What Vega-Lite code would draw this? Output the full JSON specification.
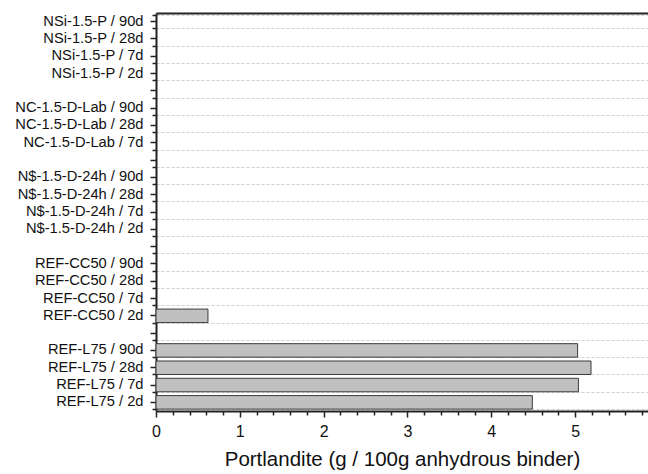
{
  "$schema": "https://vega.github.io/schema/vega-lite/v6.json",
  "autosize": {"type": "none"},
  "padding": {"left": 156, "top": 13, "right": 0, "bottom": 63},
  "width": 492,
  "height": 398,
  "background": "white",
  "config": {
    "view": {"stroke": null},
    "font": "Liberation Sans",
    "axis": {"labelFont": "Liberation Sans", "titleFont": "Liberation Sans", "labelColor": "#111", "titleColor": "#111", "tickColor": "#222", "domainColor": "#222"}
  },
  "data": {
    "values": [
      {"sample": "NSi-1.5-P / 90d", "portlandite": null},
      {"sample": "NSi-1.5-P / 28d", "portlandite": null},
      {"sample": "NSi-1.5-P / 7d", "portlandite": null},
      {"sample": "NSi-1.5-P / 2d", "portlandite": null},
      {"sample": "NC-1.5-D-Lab / 90d", "portlandite": null},
      {"sample": "NC-1.5-D-Lab / 28d", "portlandite": null},
      {"sample": "NC-1.5-D-Lab / 7d", "portlandite": null},
      {"sample": "N$-1.5-D-24h / 90d", "portlandite": null},
      {"sample": "N$-1.5-D-24h / 28d", "portlandite": null},
      {"sample": "N$-1.5-D-24h / 7d", "portlandite": null},
      {"sample": "N$-1.5-D-24h / 2d", "portlandite": null},
      {"sample": "REF-CC50 / 90d", "portlandite": null},
      {"sample": "REF-CC50 / 28d", "portlandite": null},
      {"sample": "REF-CC50 / 7d", "portlandite": null},
      {"sample": "REF-CC50 / 2d", "portlandite": 0.62},
      {"sample": "REF-L75 / 90d", "portlandite": 5.03},
      {"sample": "REF-L75 / 28d", "portlandite": 5.19},
      {"sample": "REF-L75 / 7d", "portlandite": 5.04},
      {"sample": "REF-L75 / 2d", "portlandite": 4.49}
    ]
  },
  "layer": [
    {
      "mark": {"type": "bar", "fill": "#c0c0c0", "stroke": "#3c3c3c", "strokeWidth": 1},
      "encoding": {
        "x": {
          "field": "portlandite", "type": "quantitative",
          "scale": {"domain": [0, 5.87], "nice": false, "zero": true},
          "axis": {
            "orient": "bottom",
            "values": [0, 0.2, 0.4, 0.6, 0.8, 1, 1.2, 1.4, 1.6, 1.8, 2, 2.2, 2.4, 2.6, 2.8, 3, 3.2, 3.4, 3.6, 3.8, 4, 4.2, 4.4, 4.6, 4.8, 5, 5.2, 5.4, 5.6, 5.8],
            "labelExpr": "datum.value % 1 === 0 ? format(datum.value, 'd') : ''",
            "labelOverlap": false,
            "labelFlush": false,
            "tickSize": {"condition": {"test": "datum.value % 1 === 0", "value": 6}, "value": 4},
            "tickWidth": 1.5,
            "domainWidth": 2,
            "labelFontSize": 16,
            "labelPadding": 6,
            "grid": false,
            "title": "Portlandite (g / 100g anhydrous binder)",
            "titleFontSize": 20.5,
            "titleFontWeight": "normal",
            "titlePadding": 10
          }
        },
        "y": {
          "field": "sample", "type": "nominal",
          "scale": {
            "domain": ["NSi-1.5-P / 90d", "NSi-1.5-P / 28d", "NSi-1.5-P / 7d", "NSi-1.5-P / 2d", " ",
                       "NC-1.5-D-Lab / 90d", "NC-1.5-D-Lab / 28d", "NC-1.5-D-Lab / 7d", "  ",
                       "N$-1.5-D-24h / 90d", "N$-1.5-D-24h / 28d", "N$-1.5-D-24h / 7d", "N$-1.5-D-24h / 2d", "   ",
                       "REF-CC50 / 90d", "REF-CC50 / 28d", "REF-CC50 / 7d", "REF-CC50 / 2d", "    ",
                       "REF-L75 / 90d", "REF-L75 / 28d", "REF-L75 / 7d", "REF-L75 / 2d"],
            "paddingInner": 0.22,
            "paddingOuter": 0.11
          },
          "axis": {
            "orient": "left",
            "title": null,
            "grid": false,
            "tickSize": 6,
            "tickWidth": 1.5,
            "domainWidth": 2,
            "labelFontSize": 14.7,
            "labelPadding": 7
          }
        }
      }
    },
    {
      "mark": {"type": "bar", "opacity": 0},
      "encoding": {
        "x": {
          "field": "portlandite", "type": "quantitative",
          "axis": {"orient": "top", "labels": false, "ticks": false, "title": null, "grid": false, "domainWidth": 2}
        },
        "y": {
          "field": "sample", "type": "nominal",
          "axis": {
            "orient": "left",
            "title": null,
            "labels": false,
            "domain": false,
            "tickBand": "extent",
            "tickSize": 4,
            "tickWidth": 1.5,
            "grid": true,
            "gridDash": [3, 2],
            "gridColor": "#cfcfcf",
            "gridWidth": 1
          }
        }
      }
    }
  ],
  "resolve": {"axis": {"x": "independent", "y": "independent"}}
}
